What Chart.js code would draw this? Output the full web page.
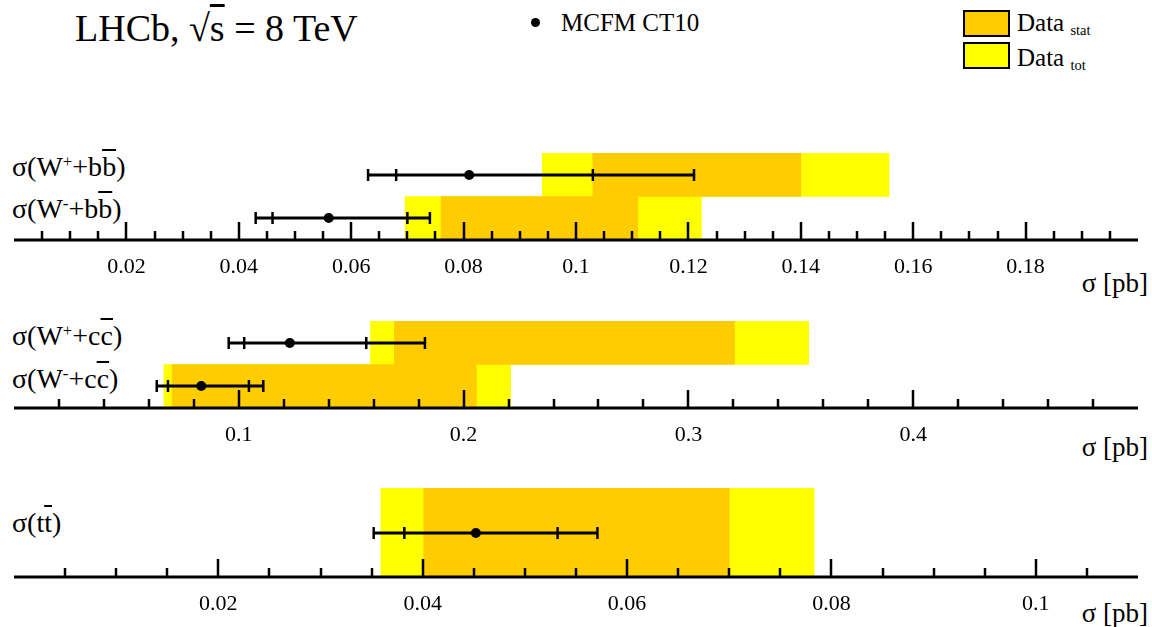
<!DOCTYPE html>
<html>
<head>
<meta charset="utf-8">
<script src="https://cdn.jsdelivr.net/npm/chart.js@4/dist/chart.umd.min.js"></script>
<style>
  body { margin: 0; background: #fff; width: 1152px; height: 627px; position: relative; overflow: hidden;
         font-family: "Liberation Serif", "Times New Roman", Tinos, "DejaVu Serif", "Noto Serif", Times, serif; color: #000; }
  .t { position: absolute; white-space: nowrap; line-height: 1; }
  .ob { text-decoration: overline; }
  .sup { font-size: 60%; position: relative; top: -0.55em; }
  .sub { font-size: 58%; position: relative; top: 0.3em; }
  .box { position: absolute; width: 43px; height: 23px; border: 2px solid #000; }
  .panel { position: absolute; left: 0; width: 1152px; }
</style>
</head>
<body>

<div class="t" style="left:75px;top:9px;font-size:38px;">LHCb,&nbsp;√<span class="ob">s</span> = 8 TeV</div>
<div style="position:absolute;left:531px;top:18px;width:9px;height:9px;border-radius:50%;background:#000;"></div>
<div class="t" style="left:561px;top:10px;font-size:25px;">MCFM CT10</div>
<div class="box" style="left:963px;top:10px;background:#ffcc00;"></div>
<div class="t" style="left:1017px;top:10px;font-size:25px;">Data <span class="sub">stat</span></div>
<div class="box" style="left:963px;top:42px;background:#ffff00;"></div>
<div class="t" style="left:1017px;top:45px;font-size:25px;">Data <span class="sub">tot</span></div>

<div class="t" style="left:12px;top:153px;font-size:28px;">σ(W<span class="sup">+</span>+b<span class="ob">b</span>)</div>
<div class="t" style="left:12px;top:195px;font-size:28px;">σ(W<span class="sup">-</span>+b<span class="ob">b</span>)</div>
<div class="t" style="left:12px;top:322px;font-size:28px;">σ(W<span class="sup">+</span>+c<span class="ob">c</span>)</div>
<div class="t" style="left:12px;top:365px;font-size:28px;">σ(W<span class="sup">-</span>+c<span class="ob">c</span>)</div>
<div class="t" style="left:12px;top:509px;font-size:28px;">σ(t<span class="ob">t</span>)</div>

<div class="t" style="right:4px;top:270px;font-size:27px;">σ [pb]</div>
<div class="t" style="right:4px;top:434px;font-size:27px;">σ [pb]</div>
<div class="t" style="right:4px;top:600px;font-size:27px;">σ [pb]</div>

<div class="panel" style="top:150px;height:130px;"><canvas id="p1" width="1152" height="130"></canvas></div>
<div class="panel" style="top:318px;height:130px;"><canvas id="p2" width="1152" height="130"></canvas></div>
<div class="panel" style="top:485px;height:132px;"><canvas id="p3" width="1152" height="132"></canvas></div>

<script>
/* =========================================================
   DATA  (cross sections in pb)
========================================================= */
const bRows    = ["W+bb", "W-bb"];
const bMcfm    = [0.081, 0.056];
const bInLo    = [0.068, 0.046];
const bInHi    = [0.103, 0.070];
const bOutLo   = [0.063, 0.043];
const bOutHi   = [0.121, 0.074];
const bStatLo  = [0.103, 0.076];
const bStatHi  = [0.140, 0.111];
const bTotLo   = [0.094, 0.0696];
const bTotHi   = [0.1557, 0.1223];

const cRows    = ["W+cc", "W-cc"];
const cMcfm    = [0.1227, 0.0833];
const cInLo    = [0.1024, 0.0685];
const cInHi    = [0.1567, 0.1045];
const cOutLo   = [0.0955, 0.0635];
const cOutHi   = [0.1828, 0.1109];
const cStatLo  = [0.1692, 0.0703];
const cStatHi  = [0.3205, 0.2057];
const cTotLo   = [0.1586, 0.0667];
const cTotHi   = [0.3535, 0.2209];

const tRows    = ["tt"];
const tMcfm    = [0.0452];
const tInLo    = [0.0382];
const tInHi    = [0.0532];
const tOutLo   = [0.0352];
const tOutHi   = [0.0571];
const tStatLo  = [0.0401];
const tStatHi  = [0.0700];
const tTotLo   = [0.0359];
const tTotHi   = [0.0783];

// axis ranges: [max, major step, minor step]
const bAxis = [0.2, 0.02, 0.005];
const cAxis = [0.5, 0.1, 0.02];
const tAxis = [0.11, 0.02, 0.005];

const SERIF = '"Liberation Serif", "Times New Roman", Tinos, "DejaVu Serif", "Noto Serif", Times, serif';

/* =========================================================
   HELPERS
========================================================= */
function fmt(v) {
  return parseFloat(v.toFixed(4)).toString();
}

// ROOT-like ticks, error bars and MCFM points, on top of the bands
const overlay = {
  id: "overlay",
  afterDraw(chart) {
    const o = chart.options.plugins.overlay;
    const { ctx } = chart;
    const x = chart.scales.x, y = chart.scales.y;
    const base = y.bottom;
    ctx.save();
    ctx.strokeStyle = "#000";
    ctx.fillStyle = "#000";

    // tick marks
    ctx.lineWidth = 2.5;
    const n = Math.round(o.max / o.minor);
    for (let k = 1; k < n; k++) {
      const v = k * o.minor;
      const r = v / o.major;
      const big = Math.abs(r - Math.round(r)) < 1e-6;
      const px = Math.round(x.getPixelForValue(v));
      ctx.beginPath();
      ctx.moveTo(px, base);
      ctx.lineTo(px, base - (big ? 18 : 9));
      ctx.stroke();
    }

    // axis line
    ctx.lineWidth = 3;
    ctx.beginPath();
    ctx.moveTo(x.left, base);
    ctx.lineTo(x.right, base);
    ctx.stroke();

    // error bars
    o.mcfm.forEach((m, i) => {
      const py = Math.round(y.getPixelForValue(i));
      const xs = [o.outLo[i], o.inLo[i], o.inHi[i], o.outHi[i]].map(v => x.getPixelForValue(v));
      ctx.lineWidth = 3;
      ctx.beginPath();
      ctx.moveTo(xs[0], py);
      ctx.lineTo(xs[3], py);
      ctx.stroke();
      ctx.lineWidth = 2.5;
      xs.forEach(px => {
        ctx.beginPath();
        ctx.moveTo(px, py - 6);
        ctx.lineTo(px, py + 6);
        ctx.stroke();
      });
      ctx.beginPath();
      ctx.arc(x.getPixelForValue(m), py, 5, 0, Math.PI * 2);
      ctx.fill();
    });
    ctx.restore();
  }
};

function makePanel(id, rows, d, axis, axisH) {
  const [max, major, minor] = axis;
  return new Chart(document.getElementById(id), {
    type: "bar",
    data: {
      labels: rows,
      datasets: [
        {
          label: "Data stat",
          data: rows.map((r, i) => [d.statLo[i], d.statHi[i]]),
          backgroundColor: "#ffcc00",
          grouped: false, barPercentage: 1, categoryPercentage: 1,
          order: 1
        },
        {
          label: "Data tot",
          data: rows.map((r, i) => [d.totLo[i], d.totHi[i]]),
          backgroundColor: "#ffff00",
          grouped: false, barPercentage: 1, categoryPercentage: 1,
          order: 2
        }
      ]
    },
    options: {
      indexAxis: "y",
      responsive: false,
      animation: false,
      events: [],
      layout: { padding: { left: 12, right: 10, top: 3, bottom: 0 } },
      plugins: {
        legend: { display: false },
        tooltip: { enabled: false },
        overlay: Object.assign({ max, major, minor }, d)
      },
      scales: {
        y: { type: "category", display: false, offset: true },
        x: {
          type: "linear",
          min: 0,
          max: max,
          grid: { display: false, drawTicks: false },
          border: { display: false },
          ticks: {
            stepSize: major,
            autoSkip: false,
            maxRotation: 0,
            padding: 14,
            color: "#000",
            font: { family: SERIF, size: 22 },
            callback: v => (v === 0 || Math.abs(v - max) < 1e-9) ? "" : fmt(v)
          },
          afterFit: s => { s.height = axisH; }
        }
      }
    },
    plugins: [overlay]
  });
}

/* =========================================================
   INIT
========================================================= */
makePanel("p1", bRows, {
  mcfm: bMcfm, inLo: bInLo, inHi: bInHi, outLo: bOutLo, outHi: bOutHi,
  statLo: bStatLo, statHi: bStatHi, totLo: bTotLo, totHi: bTotHi
}, bAxis, 40);

makePanel("p2", cRows, {
  mcfm: cMcfm, inLo: cInLo, inHi: cInHi, outLo: cOutLo, outHi: cOutHi,
  statLo: cStatLo, statHi: cStatHi, totLo: cTotLo, totHi: cTotHi
}, cAxis, 40);

makePanel("p3", tRows, {
  mcfm: tMcfm, inLo: tInLo, inHi: tInHi, outLo: tOutLo, outHi: tOutHi,
  statLo: tStatLo, statHi: tStatHi, totLo: tTotLo, totHi: tTotHi
}, tAxis, 40);
</script>
</body>
</html>
